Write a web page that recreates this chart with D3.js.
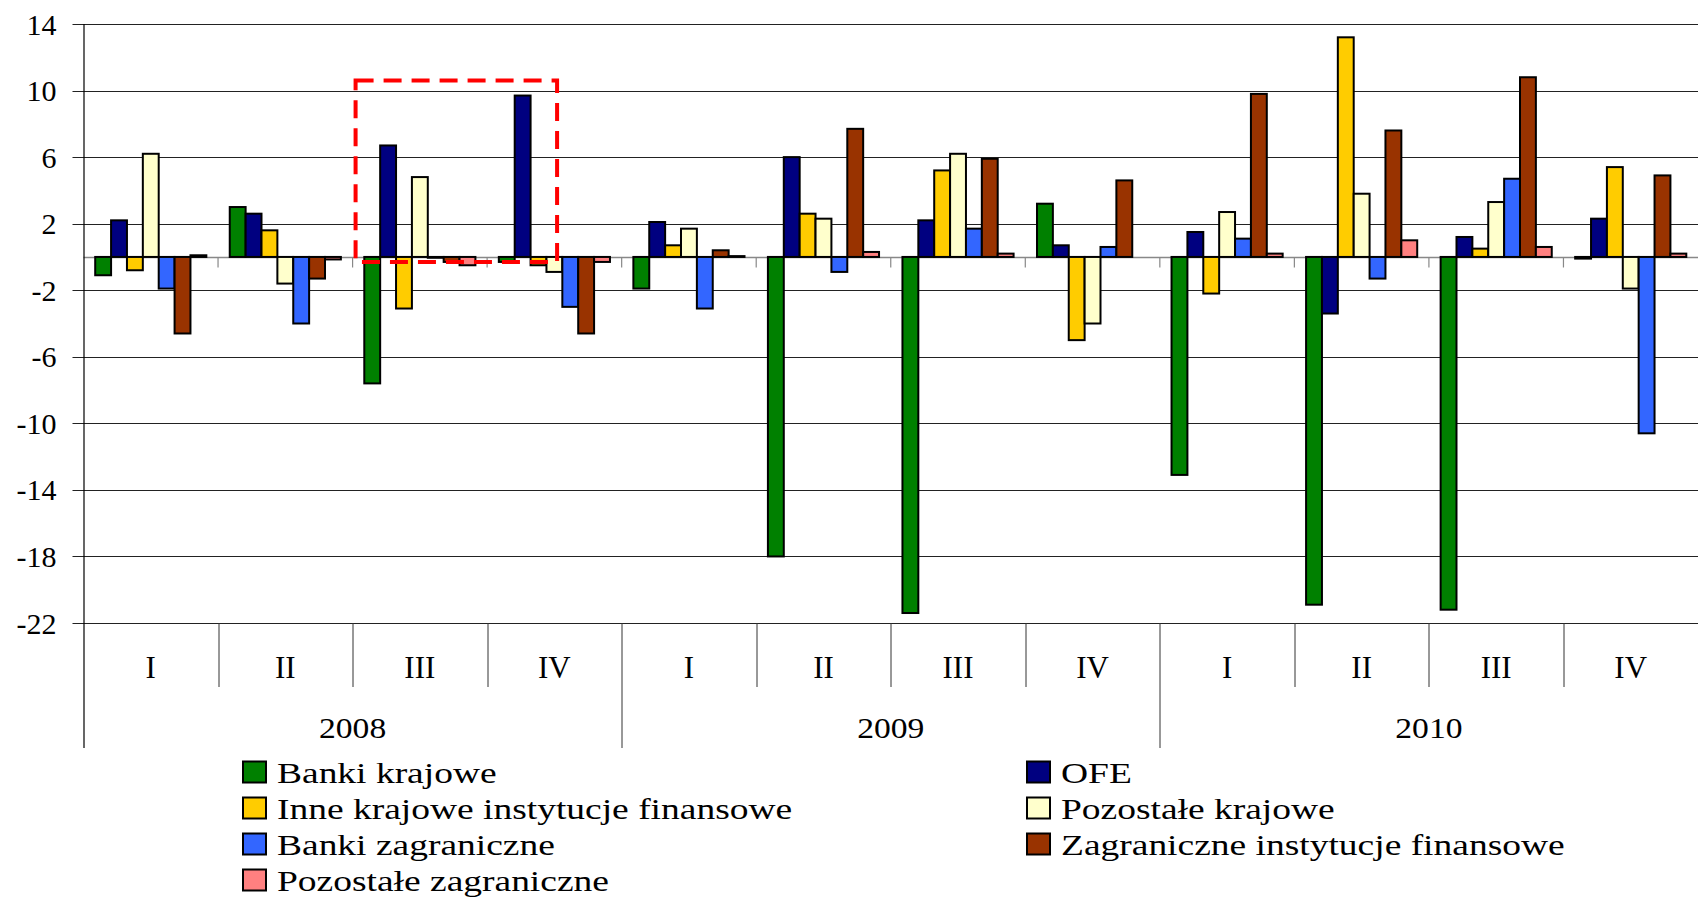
<!DOCTYPE html>
<html>
<head>
<meta charset="utf-8">
<script src="https://cdn.jsdelivr.net/npm/d3@7"></script>
<style>
  body { margin: 0; background: #fff; }
  svg { display: block; }
</style>
</head>
<body>
<div id="chart"></div>
<script>
// quarters and years on the category axis
const quarters = ["I", "II", "III", "IV", "I", "II", "III", "IV", "I", "II", "III", "IV"];
const years = ["2008", "2009", "2010"];

// series names (legend order)
const seriesNames = [
    "Banki krajowe",
    "OFE",
    "Inne krajowe instytucje finansowe",
    "Pozostałe krajowe",
    "Banki zagraniczne",
    "Zagraniczne instytucje finansowe",
    "Pozostałe zagraniczne"
];
const seriesColors = ["#008000", "#000080", "#FFCC00", "#FFFFCC", "#3366FF", "#993300", "#FF8080"];

// values, one per quarter
const bankiKrajowe     = [-1.1, 3.0, -7.6, -0.3, -1.9, -18.0, -21.4, 3.2, -13.1, -20.9, -21.2, -0.1];
const ofe              = [2.2, 2.6, 6.7, 9.7, 2.1, 6.0, 2.2, 0.7, 1.5, -3.4, 1.2, 2.3];
const inneKrajowe      = [-0.8, 1.6, -3.1, -0.5, 0.7, 2.6, 5.2, -5.0, -2.2, 13.2, 0.5, 5.4];
const pozostaleKrajowe = [6.2, -1.6, 4.8, -0.9, 1.7, 2.3, 6.2, -4.0, 2.7, 3.8, 3.3, -1.9];
const bankiZagraniczne = [-1.9, -4.0, -0.05, -3.0, -3.1, -0.9, 1.7, 0.6, 1.1, -1.3, 4.7, -10.6];
const zagraniczneInst  = [-4.6, -1.3, -0.3, -4.6, 0.4, 7.7, 5.9, 4.6, 9.8, 7.6, 10.8, 4.9];
const pozostaleZagr    = [0.1, -0.15, -0.5, -0.3, 0.05, 0.3, 0.2, 0.0, 0.2, 1.0, 0.6, 0.2];

const yTicks = [14, 10, 6, 2, -2, -6, -10, -14, -18, -22];

const seriesValues = [bankiKrajowe, ofe, inneKrajowe, pozostaleKrajowe, bankiZagraniczne, zagraniczneInst, pozostaleZagr];

const FONT = "'Liberation Serif', 'DejaVu Serif', 'Times New Roman', serif";

// svg size
let width = 1698;
let height = 897;

let margin = { top: 24, right: 0, bottom: 274, left: 83.5 };
let chartWidth = width - margin.left - margin.right;
let chartHeight = height - margin.top - margin.bottom;

let svg = d3.select("#chart")
    .append("svg")
    .attr("width", width)
    .attr("height", height)
    .attr("font-family", FONT);

let chartGroup = svg.append("g").attr("transform", `translate(${margin.left}, ${margin.top})`);

// scales
let slots = quarters.map((q, i) => i);
let xScale = d3.scaleBand()
    .domain(slots)
    .range([0, chartWidth]);

let xInner = d3.scaleBand()
    .domain(d3.range(seriesNames.length))
    .range([xScale.bandwidth() * 0.087, xScale.bandwidth() * 0.913]);

let yScale = d3.scaleLinear()
    .domain([-22, 14])
    .range([chartHeight, 0]);

// gridlines + tick marks to the left
chartGroup.append("g")
    .selectAll("line")
    .data(yTicks)
    .enter()
    .append("line")
    .attr("x1", -11)
    .attr("x2", chartWidth)
    .attr("y1", d => Math.round(yScale(d)) + 0.5)
    .attr("y2", d => Math.round(yScale(d)) + 0.5)
    .attr("stroke", "#222")
    .attr("stroke-width", 1.2);

// y labels
chartGroup.append("g")
    .selectAll("text")
    .data(yTicks)
    .enter()
    .append("text")
    .attr("x", -27)
    .attr("y", d => yScale(d))
    .attr("dy", "0.35em")
    .attr("text-anchor", "end")
    .attr("font-family", FONT)
    .style("font-size", "30px")
    .text(d => d);

// zero line with small ticks at category boundaries
let y0 = Math.round(yScale(0)) + 0.5;
chartGroup.append("line")
    .attr("x1", 0).attr("x2", chartWidth)
    .attr("y1", y0).attr("y2", y0)
    .attr("stroke", "#888")
    .attr("stroke-width", 1.5);

chartGroup.append("g")
    .selectAll("line")
    .data(slots.slice(1))
    .enter()
    .append("line")
    .attr("x1", d => xScale(d))
    .attr("x2", d => xScale(d))
    .attr("y1", y0)
    .attr("y2", y0 + 10)
    .attr("stroke", "#888")
    .attr("stroke-width", 1.2);

// bars
let barData = [];
seriesValues.forEach((vals, s) => {
    vals.forEach((v, i) => barData.push({ s: s, i: i, v: v }));
});

chartGroup.append("g")
    .selectAll("rect")
    .data(barData)
    .enter()
    .append("rect")
    .attr("x", d => xScale(d.i) + xInner(d.s))
    .attr("width", xInner.bandwidth())
    .attr("y", d => yScale(Math.max(0, d.v)))
    .attr("height", d => Math.abs(yScale(d.v) - yScale(0)))
    .attr("fill", d => seriesColors[d.s])
    .attr("stroke", "#000")
    .attr("stroke-width", 2);

// y axis line
chartGroup.append("line")
    .attr("x1", 0.5).attr("x2", 0.5)
    .attr("y1", 0).attr("y2", chartHeight + 125)
    .attr("stroke", "#000")
    .attr("stroke-width", 1.2);

// category axis: quarter separators and labels
chartGroup.append("g")
    .selectAll("line")
    .data(slots.slice(1))
    .enter()
    .append("line")
    .attr("x1", d => Math.round(xScale(d)) + 0.5)
    .attr("x2", d => Math.round(xScale(d)) + 0.5)
    .attr("y1", chartHeight)
    .attr("y2", d => d % 4 === 0 ? chartHeight + 125 : chartHeight + 64)
    .attr("stroke", "#333")
    .attr("stroke-width", 1);

chartGroup.append("g")
    .selectAll("text")
    .data(quarters)
    .enter()
    .append("text")
    .attr("x", (d, i) => xScale(i) + xScale.bandwidth() / 2)
    .attr("y", chartHeight + 44)
    .attr("dy", "0.35em")
    .attr("text-anchor", "middle")
    .attr("font-family", FONT)
    .style("font-size", "31px")
    .text(d => d);

chartGroup.append("g")
    .selectAll("text")
    .data(years)
    .enter()
    .append("text")
    .attr("transform", (d, i) => `translate(${xScale(i * 4) + xScale.bandwidth() * 2}, ${chartHeight + 104}) scale(1.12, 1)`)
    .attr("dy", "0.35em")
    .attr("text-anchor", "middle")
    .attr("font-family", FONT)
    .style("font-size", "30px")
    .text(d => d);

// red dashed highlight round 2008 III-IV
chartGroup.append("rect")
    .attr("x", xScale(2) + 3)
    .attr("y", yScale(10.6))
    .attr("width", xScale(3) + xScale.bandwidth() * 0.52 - xScale(2) - 3)
    .attr("height", yScale(-0.3) - yScale(10.6))
    .attr("fill", "none")
    .attr("stroke", "#FF0000")
    .attr("stroke-width", 4)
    .attr("stroke-dasharray", "18,10");

// legend, two columns
let legend = svg.append("g");
let legendItems = legend.selectAll("g")
    .data(seriesNames)
    .enter()
    .append("g")
    .attr("transform", (d, i) => `translate(${i % 2 === 0 ? 243 : 1027}, ${772 + Math.floor(i / 2) * 36})`);

legendItems.append("rect")
    .attr("x", 0)
    .attr("y", -10.5)
    .attr("width", 23)
    .attr("height", 21)
    .attr("fill", (d, i) => seriesColors[i])
    .attr("stroke", "#000")
    .attr("stroke-width", 2);

legendItems.append("text")
    .attr("transform", "translate(34, 0) scale(1.25, 1)")
    .attr("dy", "0.35em")
    .attr("font-family", FONT)
    .style("font-size", "30px")
    .text(d => d);
</script>
</body>
</html>
